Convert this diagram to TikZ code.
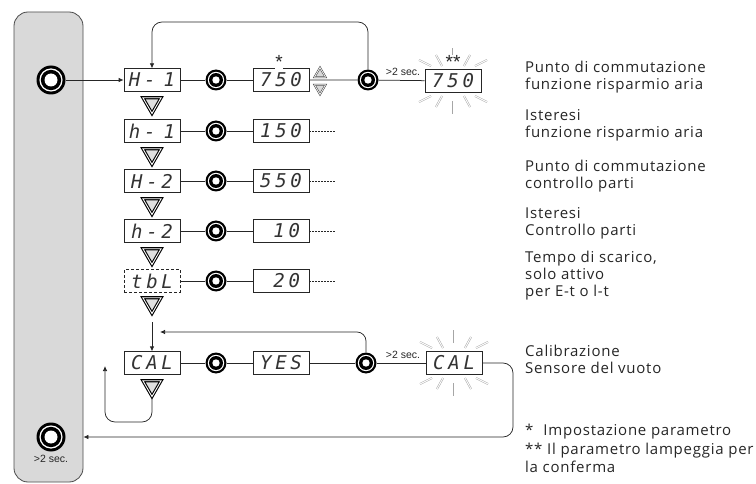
\documentclass[tikz,border=0pt]{standalone}
\usepackage{fontspec}
\setmainfont{Open Sans}
\newfontfamily\labelfont[LetterSpace=5]{Open Sans}
\newfontfamily\segfont[LetterSpace=20]{DejaVu Sans Mono}
\newfontfamily\smallfont{Liberation Sans}
\newcommand\segsetup{\segfont\itshape\fontsize{19}{19}\selectfont\spaceskip 8pt\relax}
\usetikzlibrary{arrows.meta,shapes.geometric}
\tikzset{
 conn/.style={draw=black!85, line width=0.75pt},
 arr/.style={-{Latex[length=5pt,width=4.5pt]}},
 disp/.style={draw=black!85, line width=0.75pt, fill=white, minimum width=56pt, minimum height=22.5pt, inner sep=0pt, font=\segsetup, text=black!80},
 dispdash/.style={disp, dash pattern=on 3pt off 2pt},
 btn/.style={circle, fill=black, minimum size=21pt, inner sep=0pt, path picture={
   \fill[white] (path picture bounding box.center) circle[radius=8.2pt];
   \fill[black] (path picture bounding box.center) circle[radius=7pt];
   \fill[white] (path picture bounding box.center) circle[radius=3.7pt];}},
 bigbtn/.style={circle, fill=black, minimum size=29pt, inner sep=0pt, path picture={
   \fill[white] (path picture bounding box.center) circle[radius=11.6pt];
   \fill[black] (path picture bounding box.center) circle[radius=10.2pt];
   \fill[white] (path picture bounding box.center) circle[radius=6.5pt];}},
 tri/.style={regular polygon, regular polygon sides=3, shape border rotate=180, minimum size=21pt, inner sep=0pt, draw=black, line width=1.1pt, double=white, double distance=0.9pt, fill=black!12},
 stri/.style={regular polygon, regular polygon sides=3, minimum size=13pt, inner sep=0pt, draw=black!75, line width=0.55pt, double=white, double distance=0.7pt, fill=black!15},
 ray/.style={draw=black!35, line width=0.5pt, double=white, double distance=0.9pt},
 lab/.style={anchor=west, align=left, inner sep=0pt, font=\labelfont\fontsize{15}{17}\selectfont, text=black!85},
 sec/.style={inner sep=0pt, font=\smallfont\fontsize{10.5}{12}\selectfont, text=black!85},
 ast/.style={inner sep=0.5pt, font=\smallfont\fontsize{19}{19}\selectfont, text=black!85, fill=white},
 dots/.style={conn, dash pattern=on 1.5pt off 1.5pt},
}
\begin{document}
\begin{tikzpicture}[x=1pt,y=-1pt]
\useasboundingbox (0,0) rectangle (756,484);
% panel
\node[draw=black!70, fill=black!15, rounded corners=14pt, minimum width=69pt, minimum height=470pt, line width=0.8pt, inner sep=0pt] (panel) at (48.5,247) {};
\node[bigbtn] (B1) at (51,80) {};
\node[bigbtn] (B2) at (51,437) {};
\node[sec] (B2t) at (51,459) {>2 sec.};

% row 1
\node[disp] (d1) at (152,80) {H- 1};
\node[tri] (t1) at (152,103) {};
\node[btn] (c1) at (216,80) {};
\node[disp] (v1) at (281,80) {750};
\node[stri] (up1) at (320,74) {};
\node[stri, shape border rotate=180] (dn1) at (320,88) {};
\node[btn] (e1) at (368,80) {};
\node[disp] (f1) at (453,81) {750};
\begin{scope}[shift={(f1)}]
 \foreach \a/\b/\c/\d in {0/-20/0/-33, -11/-15/-17/-26, 11/-15/17/-26, -22/-15/-34/-21, 22/-15/34/-21,
   0/20/0/33, -11/15/-17/26, 11/15/17/26, -22/15/-34/21, 22/15/34/21}
   \draw[ray] (\a,\b) -- (\c,\d);
\end{scope}
\node[ast] (st1) at (279,62) {*};
\node[ast] (st2) at (453,62) {**};
\node[sec] (s1) at (403,72) {>2 sec.};
\coordinate (top1) at (152,22);
\draw[conn,arr] (B1) -- (d1);
\draw[conn] (d1) -- (c1) -- (v1);
\draw[conn] (v1) -- (e1) -- (f1);
\draw[conn,arr,rounded corners=10pt] (e1.north) |- (top1) -- (d1.north);

% row 2
\node[disp] (d2) at (152,131) {h- 1};
\node[tri] (t2) at (152,154) {};
\node[btn] (c2) at (216,131) {};
\node[disp] (v2) at (281,131) {150};
\coordinate (q2) at (336,131);
\draw[conn] (d2) -- (c2) -- (v2);
\draw[dots] (v2.east) -- (q2);

% row 3
\node[disp] (d3) at (152,181) {H-2};
\node[tri] (t3) at (152,204) {};
\node[btn] (c3) at (216,181) {};
\node[disp] (v3) at (281,181) {550};
\coordinate (q3) at (336,181);
\draw[conn] (d3) -- (c3) -- (v3);
\draw[dots] (v3.east) -- (q3);

% row 4
\node[disp] (d4) at (152,231) {h-2};
\node[tri] (t4) at (152,254) {};
\node[btn] (c4) at (216,231) {};
\node[disp] (v4) at (281,231) {\phantom{0}10};
\coordinate (q4) at (336,231);
\draw[conn] (d4) -- (c4) -- (v4);
\draw[dots] (v4.east) -- (q4);

% row 5
\node[dispdash] (d5) at (152,281) {tbL};
\node[tri] (t5) at (152,303) {};
\node[btn] (c5) at (216,281) {};
\node[disp] (v5) at (281,281) {\phantom{0}20};
\coordinate (q5) at (336,281);
\draw[conn] (d5) -- (c5) -- (v5);
\draw[dots] (v5.east) -- (q5);

% CAL row
\coordinate (a6) at (152,322);
\node[disp] (d6) at (152,363) {CAL};
\node[tri] (t6) at (152,386) {};
\node[btn] (c6) at (216,363) {};
\node[disp] (v6) at (281,363) {YES};
\node[btn] (e6) at (366,363) {};
\node[disp] (f6) at (454,363) {CAL};
\begin{scope}[shift={(f6)}]
 \foreach \a/\b/\c/\d in {0/-20/0/-33, -11/-15/-17/-26, 11/-15/17/-26, -22/-15/-34/-21, 22/-15/34/-21,
   0/20/0/33, -11/15/-17/26, 11/15/17/26, -22/15/-34/21, 22/15/34/21}
   \draw[ray] (\a,\b) -- (\c,\d);
\end{scope}
\node[sec] (s6) at (403,355) {>2 sec.};
\coordinate (r6) at (160,332);
\coordinate (l6) at (105,366);
\coordinate (l6b) at (105,422);
\coordinate (rb) at (513,437);
\draw[conn,arr] (a6) -- (d6.north);
\draw[conn] (d6) -- (c6) -- (v6) -- (e6) -- (f6);
\draw[conn,arr,rounded corners=9pt] (e6.north) |- (r6);
\draw[conn,arr,rounded corners=10pt] (t6.south) |- (l6b) -- (l6);
\draw[conn,arr,rounded corners=10pt] (f6.east) -| (rb) -- (panel.east |- rb);

% labels
\node[lab] (L1) at (525,77.5) {Punto di commutazione\\funzione risparmio aria};
\node[lab] (L2) at (525,125) {Isteresi\\funzione risparmio aria};
\node[lab] (L3) at (525,176.5) {Punto di commutazione\\controllo parti};
\node[lab] (L4) at (525,223.5) {Isteresi\\Controllo parti};
\node[lab] (L5) at (525,275.5) {Tempo di scarico,\\solo attivo\\per E-t o l-t};
\node[lab] (L6) at (525,359) {Calibrazione\\Sensore del vuoto};
\node[lab, font=\labelfont\fontsize{15}{18.5}\selectfont] (L7) at (525,448.5) {*\hspace{10pt}Impostazione parametro\\** Il parametro lampeggia per\\la conferma};
\end{tikzpicture}
\end{document}
